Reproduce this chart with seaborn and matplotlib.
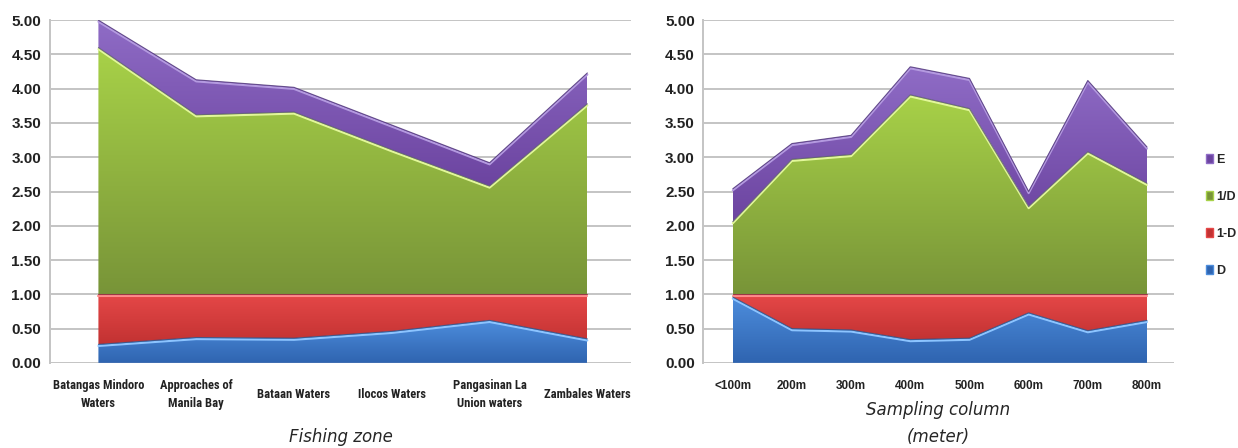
import numpy as np
import matplotlib
matplotlib.use("Agg")
import matplotlib.pyplot as plt
import matplotlib.transforms as mtransforms
import seaborn as sns
from matplotlib.colors import LinearSegmentedColormap
from matplotlib.patches import Patch
from matplotlib import font_manager

# fishing zone panel
zones = ["Batangas Mindoro\nWaters", "Approaches of\nManila Bay", "Bataan Waters",
         "Ilocos Waters", "Pangasinan La\nUnion waters", "Zambales Waters"]
zone_D = [0.27, 0.37, 0.36, 0.46, 0.62, 0.35]
zone_1mD = [0.73, 0.63, 0.64, 0.54, 0.38, 0.65]
zone_invD = [3.60, 2.62, 2.66, 2.11, 1.58, 2.78]
zone_E = [0.40, 0.51, 0.36, 0.36, 0.34, 0.45]

# sampling column panel
depths = ["<100m", "200m", "300m", "400m", "500m", "600m", "700m", "800m"]
depth_D = [0.96, 0.50, 0.48, 0.34, 0.36, 0.73, 0.47, 0.62]
depth_1mD = [0.04, 0.50, 0.52, 0.66, 0.64, 0.27, 0.53, 0.38]
depth_invD = [1.06, 1.97, 2.04, 2.91, 2.71, 1.28, 2.08, 1.62]
depth_E = [0.48, 0.23, 0.28, 0.41, 0.44, 0.22, 1.04, 0.53]

series = ["D", "1-D", "1/D", "E"]
# (top colour, bottom colour, edge highlight, dark rim)
shades = {
    "D": ("#4d8ddc", "#2f64b0", "#8cc4ff", "#2a4f86"),
    "1-D": ("#e64848", "#c23232", "#ff8a8a", "#8a2a3a"),
    "1/D": ("#a8d248", "#789438", "#e2f79a", "#5a5a70"),
    "E": ("#8f6cc6", "#6c44a0", "#b49ae0", "#4e3478"),
}

sns.set_theme(style="white")
plt.rcParams["font.family"] = ["Liberation Sans", "DejaVu Sans"]

# pick a condensed bold face for the category labels if one is installed
narrow = "DejaVu Sans"
names = {f.name for f in font_manager.fontManager.ttflist}
for cand in ["Liberation Sans Narrow", "DejaVu Sans Condensed", "Roboto Condensed"]:
    if cand in names:
        narrow = cand
        break


def draw_panel(ax, cats, layers, xmax, zone_style):
    x = np.arange(len(cats))
    polys = ax.stackplot(x, *layers, colors=[shades[s][1] for s in series],
                         linewidth=0, zorder=2)
    tops = np.cumsum(np.array(layers), axis=0)
    bottoms = tops - np.array(layers)
    # vertical gradient inside each layer
    for i, (poly, s) in enumerate(zip(polys, series)):
        cmap = LinearSegmentedColormap.from_list(s, [shades[s][1], shades[s][0]])
        grad = np.linspace(0, 1, 256).reshape(-1, 1)
        im = ax.imshow(grad, cmap=cmap, origin="lower", aspect="auto",
                       extent=(x[0], x[-1], bottoms[i].min(), tops[i].max()), zorder=3)
        im.set_clip_path(poly.get_paths()[0], transform=ax.transData)
        poly.set_alpha(0)
    # bevel: thin dark rim on top, light highlight just below it
    shift = mtransforms.offset_copy(ax.transData, fig=ax.figure, x=0, y=-1.6, units="dots")
    for top, s in zip(tops, series):
        line = sns.lineplot(x=x, y=top, ax=ax, color=shades[s][2], linewidth=1.5,
                            zorder=4, legend=False).lines[-1]
        line.set_transform(shift)
        ax.plot(x, top, color=shades[s][3], linewidth=0.8, alpha=0.8, zorder=5)

    ax.set_xlim(-0.5, xmax)
    ax.set_ylim(0, 5)
    ticks = np.arange(0, 5.01, 0.5)
    ax.set_yticks(ticks)
    ax.set_yticklabels([f"{v:.2f}" for v in ticks],
                       fontsize=11, fontweight="bold", color="#222222")
    ax.set_xticks(x)
    if zone_style:
        labels = ax.set_xticklabels(cats, fontsize=9, fontweight="bold", color="#222222",
                                    family=narrow, fontstretch="condensed",
                                    linespacing=1.5)
        for lab in labels:
            lab.set_va("center")
        ax.tick_params(axis="x", pad=19)
    else:
        ax.set_xticklabels(cats, fontsize=8.5, fontweight="bold", color="#222222")
        ax.tick_params(axis="x", pad=8)
    ax.yaxis.grid(True, color="#c4c4c4", linewidth=1.4, zorder=0)
    ax.set_axisbelow(True)
    for side in ["top", "right", "bottom"]:
        ax.spines[side].set_visible(False)
    ax.spines["left"].set_color("#c4c4c4")
    ax.spines["left"].set_linewidth(1.4)
    ax.tick_params(axis="x", length=4, color="#c4c4c4")
    ax.tick_params(axis="y", length=0, pad=6)


fig = plt.figure(figsize=(12.38, 4.48), dpi=100)
ax1 = fig.add_axes([0.040, 0.190, 0.470, 0.765])
ax2 = fig.add_axes([0.568, 0.190, 0.380, 0.765])

draw_panel(ax1, zones, [zone_D, zone_1mD, zone_invD, zone_E], 5.45, True)
draw_panel(ax2, depths, [depth_D, depth_1mD, depth_invD, depth_E], 7.45, False)

ax1.set_xlabel("Fishing zone", fontsize=12, fontstyle="italic", family="DejaVu Sans")
ax1.xaxis.set_label_coords(0.5, -0.216)
ax1.xaxis.label.set_va("center")
ax2.set_xlabel("Sampling column\n(meter)", fontsize=12, fontstyle="italic",
               family="DejaVu Sans", linespacing=1.6)
ax2.xaxis.set_label_coords(0.5, -0.112)
ax2.xaxis.label.set_va("top")

handles = [Patch(facecolor=shades[s][1], edgecolor=shades[s][0]) for s in series[::-1]]
fig.legend(handles, series[::-1], loc="center left", bbox_to_anchor=(0.974, 0.52),
           frameon=False, handlelength=0.6, handleheight=0.7, labelspacing=2.0,
           handletextpad=0.25, borderaxespad=0, borderpad=0,
           prop={"weight": "bold", "size": 9})

fig.savefig("out.png", dpi=100)
